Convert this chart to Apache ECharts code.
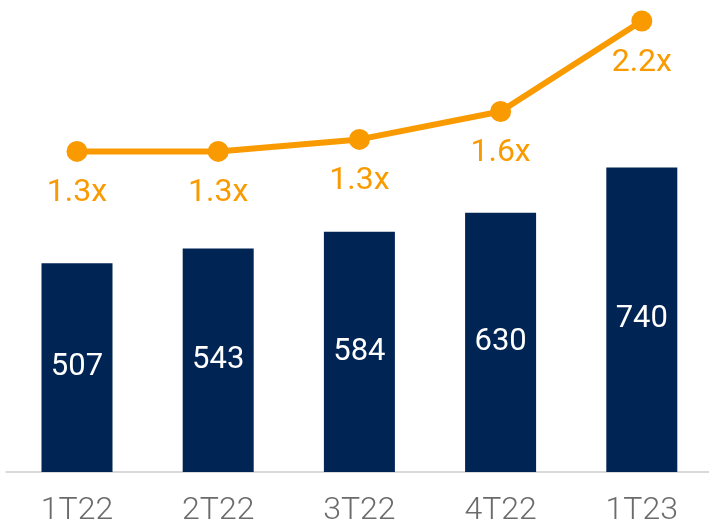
<!DOCTYPE html>
<html><head><meta charset="utf-8">
<script src="https://cdn.jsdelivr.net/npm/echarts@6/dist/echarts.min.js"></script>
<style>html,body{margin:0;padding:0;background:#fff;overflow:hidden}#c{width:713px;height:527px}</style>
</head><body><div id="c"></div>
<script>
const categories = ['1T22','2T22','3T22','4T22','1T23'];
const barValues = [507, 543, 584, 630, 740];
const lineValues = [1.3, 1.3, 1.39, 1.6, 2.28];
const lineLabels = ['1.3x','1.3x','1.3x','1.6x','2.2x'];

const chart = echarts.init(document.getElementById('c'), null, {renderer:'canvas'});
const font = 'Roboto';
chart.setOption({
  animation:false,
  grid:{left:6.4, width:706, top:0, bottom:53.7},
  xAxis:{type:'category', data:categories,
    axisLine:{lineStyle:{color:'#D9D9D9', width:2}},
    axisTick:{show:false},
    axisLabel:{color:'#6b6b6b', fontSize:32, fontFamily:font, fontWeight:300, margin:23}
  },
  yAxis:[
    {type:'value', min:0, max:1147, show:false, splitLine:{show:false}},
    {type:'value', min:-1.11, max:2.438, show:false, splitLine:{show:false}}
  ],
  series:[
    {type:'bar', data:barValues, barWidth:71, yAxisIndex:0,
      itemStyle:{color:'#002454'},
      label:{show:true, position:'inside', color:'#fff', fontSize:31, fontFamily:font, fontWeight:400}
    },
    {type:'line', data:lineValues, yAxisIndex:1,
      symbol:'circle', symbolSize:21,
      lineStyle:{color:'#F99B00', width:6},
      itemStyle:{color:'#F99B00'},
      label:{show:true, position:'bottom', distance:15, color:'#F99B00', fontSize:32, fontFamily:font, fontWeight:400,
        formatter:p=>lineLabels[p.dataIndex]}
    }
  ]
});
</script></body></html>
